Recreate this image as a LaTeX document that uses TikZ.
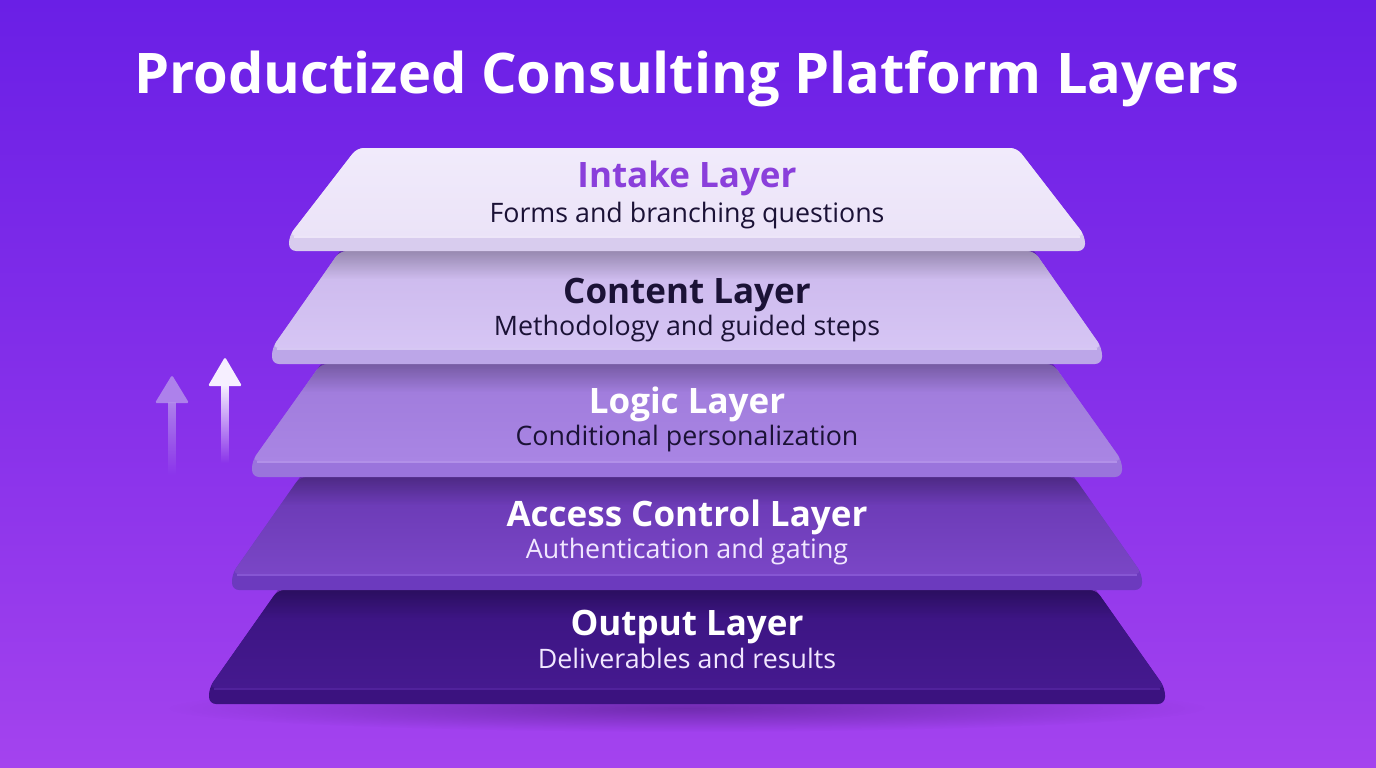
\documentclass[tikz,border=0pt]{standalone}
\usepackage{fontspec}
\setmainfont{Open Sans}
\usetikzlibrary{fadings}
\tikzfading[name=softglow, inner color=transparent!20, outer color=transparent!100]
\definecolor{bgtop}{HTML}{6A1FE6}
\definecolor{bgbot}{HTML}{A443EE}
\definecolor{intakec}{HTML}{8A3FDB}
\definecolor{darktxt}{HTML}{1B1236}
\definecolor{litetxt}{HTML}{F1E7FF}
\definecolor{arrowa}{HTML}{B590EC}
\definecolor{arrowb}{HTML}{F6EFFF}
% layer colours: face top, face bottom, slab, edge
\definecolor{lAft}{HTML}{F1EBFB}\definecolor{lAfb}{HTML}{EBE3F8}\definecolor{lAsl}{HTML}{D8CCEE}\definecolor{lAed}{HTML}{F6F1FD}
\definecolor{lBft}{HTML}{CBB8EC}\definecolor{lBfb}{HTML}{D6C5F4}\definecolor{lBsl}{HTML}{BCA6E8}\definecolor{lBed}{HTML}{E2D6F8}
\definecolor{lCft}{HTML}{9E7ADA}\definecolor{lCfb}{HTML}{A985E4}\definecolor{lCsl}{HTML}{9A74DC}\definecolor{lCed}{HTML}{BC9CEE}
\definecolor{lDft}{HTML}{6838B2}\definecolor{lDfb}{HTML}{7A46C6}\definecolor{lDsl}{HTML}{6C3ABE}\definecolor{lDed}{HTML}{9262DC}
\definecolor{lEft}{HTML}{3A1480}\definecolor{lEfb}{HTML}{45198F}\definecolor{lEsl}{HTML}{3B127F}\definecolor{lEed}{HTML}{5A2AA8}
\newcommand\mylayer[6]{%
  % #1 top y, #2 face bottom y, #3 slab bottom y, #4 top half, #5 bottom half, #6 colour prefix
  \fill[#6sl, rounded corners=7pt] ({687-#4},#1) -- ({687+#4},#1) -- ({687+#5},#2) -- ({687+#5},#3) -- ({687-#5},#3) -- ({687-#5},#2) -- cycle;
  \shade[top color=#6ft, bottom color=#6fb, rounded corners=7pt] ({687-#4},#1) -- ({687+#4},#1) -- ({687+#5},#2) -- ({687-#5},#2) -- cycle;
  \draw[#6ed, line width=1.2pt, opacity=.7] ({687-#5+5},{#2+1}) -- ({687+#5-5},{#2+1});
}
\newcommand\topshadow[4]{%
  % #1 top y, #2 top half, #3 bottom half, #4 face bottom y
  \begin{scope}
    \clip ({687-#2},#1) -- ({687+#2},#1) -- ({687+#3},#4) -- ({687-#3},#4) -- cycle;
    \fill[black, opacity=.25, path fading=south] ({687-#3},#1) rectangle ({687+#3},{#1+28});
  \end{scope}
}
\tikzset{
  maintitle/.style={text=white, font=\fontsize{56}{60}\selectfont\bfseries, anchor=base, inner sep=0pt},
  laytitle/.style={font=\fontsize{35}{38}\selectfont\bfseries, anchor=base, inner sep=0pt},
  laysub/.style={font=\fontsize{26.8}{30}\selectfont, anchor=base, inner sep=0pt},
}
\begin{document}
\begin{tikzpicture}[x=1pt,y=-1pt]
\useasboundingbox (0,0) rectangle (1376,768);
\shade[top color=bgtop, bottom color=bgbot, middle color=bgtop!55!bgbot] (0,0) rectangle (1376,768);

% ground shadow
\fill[black!70!bgtop, opacity=.45, path fading=softglow] (687,708) ellipse (520 and 24);

% layers, bottom first
\mylayer{590}{688}{704}{409}{478}{lE}
\topshadow{590}{409}{478}{688}
\mylayer{477}{574}{590}{387}{455}{lD}
\topshadow{477}{387}{455}{574}
\mylayer{364}{461}{477}{366}{435}{lC}
\topshadow{364}{366}{435}{461}
\mylayer{251}{348}{364}{347}{415}{lB}
\topshadow{251}{347}{415}{348}
\mylayer{148}{236}{251}{330}{398}{lA}

% arrows
\fill[arrowa, opacity=.85, rounded corners=1.5pt] (172,375) -- (189,403) -- (155,403) -- cycle;
\fill[arrowa, opacity=.85, path fading=south] (168,402) rectangle (176,475);
\fill[arrowb, rounded corners=1.5pt] (225,357) -- (242,386) -- (208,386) -- cycle;
\fill[arrowb, path fading=south] (220.5,385) rectangle (229,463);

% texts
\node[maintitle] (title) at (687,93) {Productized Consulting Platform Layers};
\node[laytitle, text=intakec] (t1) at (687,187) {Intake Layer};
\node[laysub, text=darktxt] (s1) at (687,222) {Forms and branching questions};
\node[laytitle, text=darktxt] (t2) at (687,303) {Content Layer};
\node[laysub, text=darktxt] (s2) at (687,335) {Methodology and guided steps};
\node[laytitle, text=white] (t3) at (687,413) {Logic Layer};
\node[laysub, text=darktxt] (s3) at (687,445) {Conditional personalization};
\node[laytitle, text=white] (t4) at (687,526) {Access Control Layer};
\node[laysub, text=litetxt] (s4) at (687,558) {Authentication and gating};
\node[laytitle, text=white] (t5) at (687,635) {Output Layer};
\node[laysub, text=litetxt] (s5) at (687,668) {Deliverables and results};
\end{tikzpicture}
\end{document}
